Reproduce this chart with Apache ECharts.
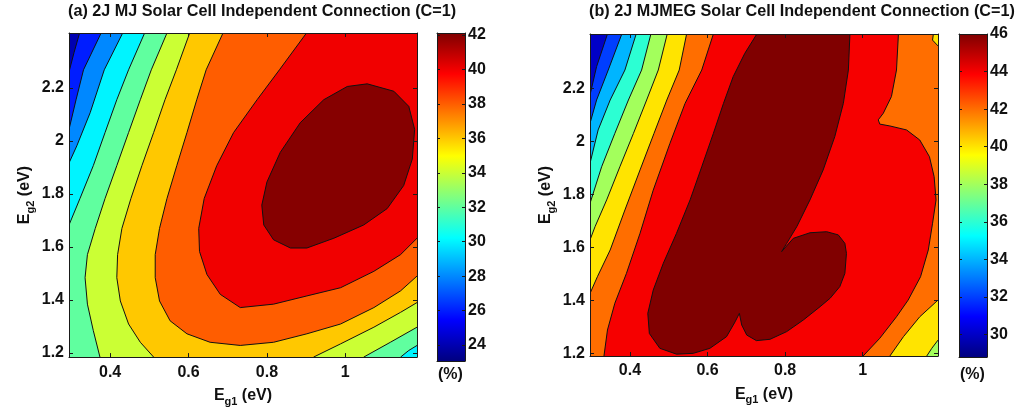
<!DOCTYPE html>
<html><head><meta charset="utf-8">
<script src="https://cdn.jsdelivr.net/npm/echarts@6/dist/echarts.min.js"></script>
<style>html,body{margin:0;padding:0;background:#fff}#c{width:1021px;height:412px}</style>
</head><body><div id="c"></div>
<script>
// ===================== DATA =====================
const titles = ['(a) 2J MJ Solar Cell Independent Connection (C=1)',
                '(b) 2J MJMEG Solar Cell Independent Connection (C=1)'];
const eg1Ticks = [0.4, 0.6, 0.8, 1];
const eg2Ticks = [1.2, 1.4, 1.6, 1.8, 2, 2.2];

// ---- (a) 2J MJ ----
const aEg1Range = [0.295, 1.183];
const aEg2Range = [1.184, 2.408];
const aBarRange = [23.07, 42.12];
const aBarTicks = [24, 26, 28, 30, 32, 34, 36, 38, 40, 42];
// contour lines [Eg1, Eg2], one array per efficiency level (%)
const a24 = [[0.322,2.408],[0.308,2.335],[0.295,2.261]];
const a26 = [[0.377,2.408],[0.332,2.269],[0.313,2.156],[0.295,2.044]];
const a28 = [[0.432,2.408],[0.385,2.269],[0.349,2.107],[0.315,1.982],[0.295,1.917]];
const a30 = [[0.488,2.408],[0.447,2.269],[0.417,2.156],[0.387,2.032],[0.357,1.907],[0.323,1.783],[0.295,1.683]];
const a30b = [[1.141,1.184],[1.162,1.209],[1.183,1.228]];
const a32 = [[0.545,2.408],[0.505,2.269],[0.477,2.156],[0.447,2.032],[0.417,1.907],[0.387,1.783],[0.362,1.670],[0.342,1.571],[0.336,1.484],[0.342,1.384],[0.357,1.284],[0.374,1.184]];
const a32b = [[1.047,1.184],[1.115,1.240],[1.183,1.297]];
const a34 = [[0.603,2.408],[0.569,2.269],[0.540,2.156],[0.511,2.032],[0.481,1.907],[0.453,1.783],[0.430,1.670],[0.419,1.571],[0.417,1.484],[0.426,1.396],[0.447,1.309],[0.477,1.240],[0.511,1.184]];
const a34b = [[0.919,1.184],[0.988,1.234],[1.073,1.297],[1.141,1.353],[1.183,1.390]];
const a36 = [[0.688,2.408],[0.645,2.269],[0.621,2.156],[0.596,2.032],[0.570,1.907],[0.545,1.783],[0.526,1.670],[0.515,1.571],[0.515,1.484],[0.526,1.396],[0.553,1.321],[0.596,1.272],[0.655,1.240],[0.732,1.228],[0.817,1.240],[0.902,1.272],[0.988,1.309],[1.073,1.371],[1.141,1.434],[1.183,1.490]];
const a38 = [[0.901,2.408],[0.832,2.269],[0.775,2.156],[0.715,2.032],[0.672,1.907],[0.640,1.783],[0.626,1.670],[0.628,1.583],[0.647,1.496],[0.681,1.421],[0.732,1.371],[0.817,1.384],[0.902,1.415],[0.988,1.446],[1.073,1.508],[1.141,1.571],[1.183,1.633]];
const a40 = [[1.056,2.216],[1.124,2.188],[1.162,2.131],[1.177,2.044],[1.171,1.932],[1.149,1.832],[1.107,1.745],[1.047,1.683],[0.971,1.633],[0.902,1.596],[0.860,1.596],[0.817,1.627],[0.792,1.683],[0.787,1.758],[0.800,1.845],[0.834,1.957],[0.885,2.069],[0.945,2.156],[1.005,2.206]];

// ---- (b) 2J MJMEG ----
const bEg1Range = [0.297, 1.194];
const bEg2Range = [1.190, 2.405];
const bBarRange = [28.8, 46.0];
const bBarTicks = [30, 32, 34, 36, 38, 40, 42, 44, 46];
const b30 = [[0.342,2.405],[0.314,2.282],[0.297,2.175]];
const b32 = [[0.379,2.405],[0.344,2.269],[0.314,2.156],[0.297,2.068]];
const b34 = [[0.416,2.405],[0.387,2.269],[0.349,2.156],[0.318,2.043],[0.297,1.917]];
const b36 = [[0.454,2.405],[0.430,2.269],[0.396,2.156],[0.361,2.030],[0.327,1.904],[0.297,1.766]];
const b38 = [[0.496,2.405],[0.473,2.269],[0.443,2.156],[0.409,2.030],[0.374,1.904],[0.340,1.779],[0.310,1.678],[0.297,1.628]];
const b38b = [[1.165,1.190],[1.178,1.219],[1.194,1.250]];
const b40 = [[0.546,2.405],[0.527,2.269],[0.495,2.156],[0.462,2.030],[0.426,1.892],[0.387,1.741],[0.349,1.590],[0.316,1.489],[0.297,1.426]];
const b40b = [[1.070,1.190],[1.105,1.263],[1.147,1.338],[1.194,1.401]];
const b40c = [[1.182,2.405],[1.180,2.382],[1.194,2.360]];
const b42 = [[0.615,2.405],[0.585,2.269],[0.542,2.143],[0.503,1.992],[0.460,1.816],[0.426,1.653],[0.391,1.502],[0.361,1.389],[0.342,1.288],[0.333,1.190]];
const b42b = [[1.001,1.190],[1.044,1.257],[1.087,1.338],[1.117,1.401],[1.149,1.489],[1.169,1.590],[1.180,1.691],[1.189,1.779],[1.184,1.867],[1.172,1.942],[1.147,2.005],[1.113,2.043],[1.070,2.058],[1.044,2.065],[1.040,2.081],[1.053,2.106],[1.074,2.169],[1.087,2.269],[1.092,2.405]];
const b44 = [[0.727,2.405],[0.967,2.405],[0.963,2.269],[0.950,2.143],[0.928,2.018],[0.898,1.892],[0.864,1.779],[0.830,1.678],[0.804,1.615],[0.791,1.584],[0.821,1.634],[0.864,1.655],[0.907,1.659],[0.937,1.647],[0.954,1.615],[0.958,1.577],[0.954,1.502],[0.941,1.452],[0.916,1.408],[0.890,1.376],[0.847,1.326],[0.804,1.282],[0.761,1.253],[0.726,1.248],[0.701,1.269],[0.688,1.307],[0.682,1.351],[0.671,1.319],[0.649,1.263],[0.606,1.219],[0.563,1.200],[0.520,1.197],[0.477,1.219],[0.450,1.275],[0.446,1.351],[0.460,1.439],[0.486,1.540],[0.520,1.653],[0.555,1.779],[0.585,1.904],[0.615,2.030],[0.641,2.143],[0.666,2.244],[0.696,2.332]];

// ===================== BUILD =====================
const FONT = '"Liberation Sans", Arial, Helvetica, sans-serif';
const TXT = '#111';
const LINE = '#1a1a1a';

function jet(t) {
  const c = x => Math.max(0, Math.min(1, x));
  const r = c(1.5 - Math.abs(4 * t - 3)), g = c(1.5 - Math.abs(4 * t - 2)), b = c(1.5 - Math.abs(4 * t - 1));
  return 'rgb(' + Math.round(r * 255) + ',' + Math.round(g * 255) + ',' + Math.round(b * 255) + ')';
}
const colorOf = (v, range) => jet((v - range[0]) / (range[1] - range[0]));

function corners(rx, ry) {
  return { tl: [rx[0], ry[1]], tr: [rx[1], ry[1]], bl: [rx[0], ry[0]], br: [rx[1], ry[0]] };
}
const A = corners(aEg1Range, aEg2Range);
const B = corners(bEg1Range, bEg2Range);

// regions {f >= level}, painted in increasing order; band colour = colour of next level up
const aRegions = [
  { v: 24, poly: [A.bl, A.br, A.tr, A.tl] },
  { v: 26, poly: [...a24, A.bl, A.br, A.tr] },
  { v: 28, poly: [...a26, A.bl, A.br, A.tr] },
  { v: 30, poly: [...a28, A.bl, A.br, A.tr] },
  { v: 32, poly: [...a30, A.bl, ...a30b, A.tr] },
  { v: 34, poly: [...a32, ...a32b, A.tr] },
  { v: 36, poly: [...a34, ...a34b, A.tr] },
  { v: 38, poly: [...a36, A.tr] },
  { v: 40, poly: [...a38, A.tr] },
  { v: 42, poly: a40 }
];
const aLines = [a24, a26, a28, a30, a30b, a32, a32b, a34, a34b, a36, a38, [...a40, a40[0]]];

const bRegions = [
  { v: 30, poly: [B.bl, B.br, B.tr, B.tl] },
  { v: 32, poly: [...b30, B.bl, B.br, B.tr] },
  { v: 34, poly: [...b32, B.bl, B.br, B.tr] },
  { v: 36, poly: [...b34, B.bl, B.br, B.tr] },
  { v: 38, poly: [...b36, B.bl, B.br, B.tr] },
  { v: 40, poly: [...b38, B.bl, ...b38b, B.tr] },
  { v: 42, poly: [...b40, B.bl, ...b40b, ...b40c.slice().reverse()] },
  { v: 44, poly: [...b42, ...b42b] },
  { v: 46, poly: b44 }
];
const bLines = [b30, b32, b34, b36, b38, b38b, b40, b40b, b40c, b42, b42b, [...b44.slice(1), b44[0]]];

const rich = {
  n: { fontSize: 16, fontWeight: 'bold', color: TXT, fontFamily: FONT, lineHeight: 16 },
  s: { fontSize: 11, fontWeight: 'bold', color: TXT, fontFamily: FONT, lineHeight: 11, padding: [11, 0, 0, 0] }
};
const labelStyle = { color: TXT, fontSize: 16, fontWeight: 'bold', fontFamily: FONT };
const fmt = v => String(+(+v).toFixed(3));

function plotX(gi, range) {
  const base = {
    gridIndex: gi, type: 'value', min: range[0], max: range[1], z: 10,
    axisLine: { show: true, onZero: false, lineStyle: { color: LINE, width: 1 } },
    axisTick: { show: true, inside: true, length: 4, customValues: eg1Ticks, lineStyle: { color: LINE, width: 1 } },
    splitLine: { show: false }
  };
  return [
    Object.assign({}, base, {
      position: 'bottom',
      axisLabel: Object.assign({ show: true, customValues: eg1Ticks, margin: 7, formatter: fmt }, labelStyle),
      name: '{n|E}{s|g1}{n| (eV)}', nameLocation: 'middle', nameGap: 23,
      nameTextStyle: { rich: rich }
    }),
    Object.assign({}, base, { position: 'top', axisLabel: { show: false } })
  ];
}
function plotY(gi, range) {
  const base = {
    gridIndex: gi, type: 'value', min: range[0], max: range[1], z: 10,
    axisLine: { show: true, onZero: false, lineStyle: { color: LINE, width: 1 } },
    axisTick: { show: true, inside: true, length: 4, customValues: eg2Ticks, lineStyle: { color: LINE, width: 1 } },
    splitLine: { show: false }
  };
  return [
    Object.assign({}, base, {
      position: 'left',
      axisLabel: Object.assign({ show: true, customValues: eg2Ticks, margin: 5, formatter: fmt }, labelStyle),
      name: '{n|E}{s|g2}{n| (eV)}', nameLocation: 'middle', nameGap: 36,
      nameTextStyle: { rich: rich }
    }),
    Object.assign({}, base, { position: 'right', axisLabel: { show: false } })
  ];
}
function barX(gi) {
  const base = {
    gridIndex: gi, type: 'value', min: 0, max: 1, z: 10,
    axisLine: { show: true, onZero: false, lineStyle: { color: LINE, width: 1 } },
    axisTick: { show: false }, axisLabel: { show: false }, splitLine: { show: false }
  };
  return [Object.assign({}, base, { position: 'bottom' }), Object.assign({}, base, { position: 'top' })];
}
function barY(gi, range, ticks) {
  const base = {
    gridIndex: gi, type: 'value', min: range[0], max: range[1], z: 10,
    axisLine: { show: true, onZero: false, lineStyle: { color: LINE, width: 1 } },
    axisTick: { show: true, inside: true, length: 3, customValues: ticks, lineStyle: { color: LINE, width: 1 } },
    splitLine: { show: false }
  };
  return [
    Object.assign({}, base, { position: 'left', axisLabel: { show: false } }),
    Object.assign({}, base, {
      position: 'right',
      axisLabel: Object.assign({ show: true, customValues: ticks, margin: 3, formatter: fmt }, labelStyle)
    })
  ];
}

function fillSeries(xi, yi, regions, barRange) {
  return {
    type: 'custom', xAxisIndex: xi, yAxisIndex: yi, coordinateSystem: 'cartesian2d',
    silent: true, clip: true, z: 2,
    data: regions.map((r, i) => [r.poly[0][0], r.poly[0][1], i]),
    encode: { x: 0, y: 1 },
    renderItem: (p, api) => {
      const r = regions[api.value(2)];
      return { type: 'polygon', shape: { points: r.poly.map(q => api.coord(q)) },
               style: { fill: colorOf(r.v, barRange), stroke: null } };
    }
  };
}
function lineSeries(xi, yi, lines) {
  return {
    type: 'custom', xAxisIndex: xi, yAxisIndex: yi, coordinateSystem: 'cartesian2d',
    silent: true, clip: true, z: 3,
    data: lines.map((l, i) => [l[0][0], l[0][1], i]),
    encode: { x: 0, y: 1 },
    renderItem: (p, api) => {
      const l = lines[api.value(2)];
      return { type: 'polyline', shape: { points: l.map(q => api.coord(q)) },
               style: { stroke: '#111', lineWidth: 1, fill: null, lineJoin: 'round' } };
    }
  };
}
const jetStops = [];
for (let i = 0; i <= 64; i++) { const o = i / 64; jetStops.push({ offset: o, color: jet(1 - o) }); }
function barSeries(xi, yi, range) {
  return {
    type: 'custom', xAxisIndex: xi, yAxisIndex: yi, coordinateSystem: 'cartesian2d',
    silent: true, z: 2,
    data: [[0, range[0], 1, range[1]]],
    encode: { x: [0, 2], y: [1, 3] },
    renderItem: (p, api) => {
      const p0 = api.coord([api.value(0), api.value(3)]);
      const p1 = api.coord([api.value(2), api.value(1)]);
      return { type: 'rect', shape: { x: p0[0], y: p0[1], width: p1[0] - p0[0], height: p1[1] - p0[1] },
               style: { fill: new echarts.graphic.LinearGradient(0, 0, 0, 1, jetStops) } };
    }
  };
}

const titleStyle = { fontSize: 16.2, fontWeight: 'bold', color: TXT, fontFamily: FONT };
const option = {
  backgroundColor: '#fff',
  animation: false,
  title: [
    { text: titles[0], left: 68, top: 4, padding: 0, textStyle: titleStyle },
    { text: titles[1], left: 589, top: 4, padding: 0, textStyle: titleStyle },
    { text: '(%)', left: 438, top: 367, padding: 0, textStyle: labelStyle },
    { text: '(%)', left: 960, top: 367, padding: 0, textStyle: labelStyle }
  ],
  grid: [
    { left: 69, top: 33, width: 348, height: 327 },
    { left: 437, top: 33, width: 28, height: 328 },
    { left: 590, top: 34, width: 348, height: 322 },
    { left: 959, top: 34, width: 28, height: 323 }
  ],
  xAxis: [...plotX(0, aEg1Range), ...barX(1), ...plotX(2, bEg1Range), ...barX(3)],
  yAxis: [...plotY(0, aEg2Range), ...barY(1, aBarRange, aBarTicks), ...plotY(2, bEg2Range), ...barY(3, bBarRange, bBarTicks)],
  series: [
    fillSeries(0, 0, aRegions, aBarRange),
    lineSeries(0, 0, aLines),
    barSeries(2, 3, aBarRange),
    fillSeries(4, 4, bRegions, bBarRange),
    lineSeries(4, 4, bLines),
    barSeries(6, 7, bBarRange)
  ]
};
const chart = echarts.init(document.getElementById('c'), null, { renderer: 'canvas', width: 1021, height: 412 });
chart.setOption(option);
</script>
</body></html>
